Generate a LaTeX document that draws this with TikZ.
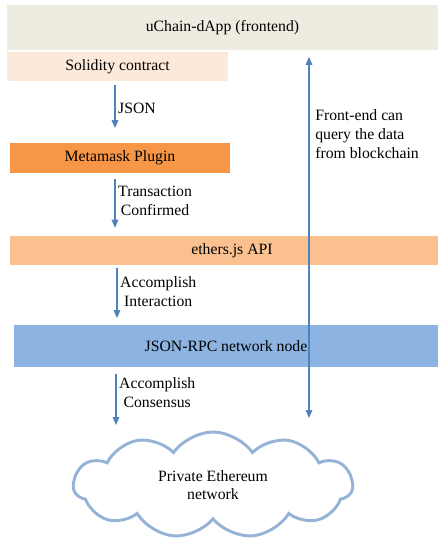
\documentclass[tikz,border=0pt]{standalone}
\usepackage{fontspec}
\setmainfont{Liberation Serif}
\usepackage{xcolor}
\usetikzlibrary{shapes.symbols,arrows.meta}
\definecolor{frontbg}{HTML}{EEECE1}
\definecolor{solbg}{HTML}{FDE9D9}
\definecolor{metabg}{HTML}{F79646}
\definecolor{ethbg}{HTML}{FAC090}
\definecolor{rpcbg}{HTML}{8DB3E2}
\definecolor{cloudline}{HTML}{95B3D7}
\definecolor{arrowblue}{HTML}{4F81BD}
\begin{document}
\begin{tikzpicture}[x=0.75pt, y=-0.75pt, font=\fontsize{11.8}{14}\selectfont,
    layer/.style={rectangle, inner sep=0pt},
    flow/.style={draw=arrowblue, line width=0.8pt, -{Triangle[length=6pt, width=5pt]}},
    lbl/.style={right, align=center, inner sep=2pt, yshift=2.5pt}]
      \useasboundingbox (0,0) rectangle (447,545);
      \node (front) [layer, fill=frontbg, minimum width=431*0.75pt, minimum height=45*0.75pt] at (222.5,27.5) {uChain-dApp (frontend)};
      \node (sol) [layer, fill=solbg, minimum width=221*0.75pt, minimum height=29*0.75pt] at (117.5,66.5) {Solidity contract};
      \node (meta) [layer, fill=metabg, minimum width=220*0.75pt, minimum height=30*0.75pt] at (120,158) {Metamask Plugin};
      \node (eth) [layer, fill=ethbg, minimum width=428*0.75pt, minimum height=29*0.75pt] at (224,250.5) {\hspace*{12pt}ethers.js API};
      \node (rpc) [layer, fill=rpcbg, minimum width=424*0.75pt, minimum height=42*0.75pt] at (226,346) {JSON-RPC network node};
      \node (chain) [cloud, draw=cloudline, line width=2.2pt, cloud puffs=11, cloud puff arc=110, aspect=2.5, inner sep=0pt, minimum width=279*0.75pt, minimum height=106*0.75pt, align=center] at (213,485) {Private Ethereum\\network};
      \coordinate (consend) at (116,425);
      \coordinate (qbot) at (309,418);

      \draw[flow, shorten <=3pt, shorten >=11pt] (sol.south -| 115,0) -- (meta.north -| 115,0) node[midway, lbl] {JSON};
      \draw[flow, shorten <=4pt, shorten >=6pt] (meta.south -| 115,0) -- (eth.north -| 115,0) node[midway, lbl] {Transaction\\Confirmed};
      \draw[flow, shorten <=2pt, shorten >=5pt] (eth.south -| 117,0) -- (rpc.north -| 117,0) node[midway, lbl] {Accomplish\\Interaction};
      \draw[flow, shorten <=5pt] (rpc.south -| consend) -- (consend) node[midway, lbl] {Accomplish\\Consensus};
      \draw[flow, {Triangle[length=6pt, width=5pt]}-{Triangle[length=6pt, width=5pt]}, shorten <=5pt] (front.south -| qbot) -- (qbot);
      \node (query) [right, align=left, inner sep=0pt] at (315,134) {Front-end can\\query the data\\from blockchain};
    \end{tikzpicture}
\end{document}
